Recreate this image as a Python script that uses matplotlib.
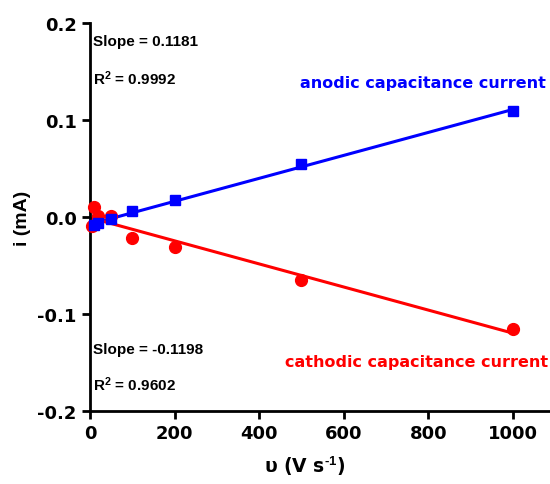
import matplotlib.pyplot as plt
import numpy as np

plt.rcParams['font.family'] = ['Liberation Sans', 'DejaVu Sans']
plt.rcParams['font.weight'] = 'bold'
plt.rcParams['mathtext.fontset'] = 'custom'
plt.rcParams['mathtext.rm'] = 'Liberation Sans:bold'
plt.rcParams['mathtext.bf'] = 'Liberation Sans:bold'
plt.rcParams['mathtext.default'] = 'bf'

scan_rate = [10, 20, 50, 100, 200, 500, 1000]
anodic = [-0.008, -0.006, -0.002, 0.006, 0.0178, 0.0546, 0.1096]
cathodic_x = [5, 10, 20, 50, 100, 200, 500, 1000]
cathodic = [-0.009, 0.011, 0.001, 0.001, -0.021, -0.031, -0.065, -0.1155]

wide = ['DejaVu Sans']

fig = plt.figure(figsize=(5.5, 4.85), dpi=100)
ax = fig.add_axes([0.1636, 0.1505, 0.8364, 0.799])

xf = np.array([0, 1000])
pa = np.polyfit(scan_rate, anodic, 1)
pc = np.polyfit(cathodic_x, cathodic, 1)
ax.plot(xf, np.polyval(pa, xf), color='#0000ff', lw=2.2, zorder=2)
ax.plot(xf, np.polyval(pc, xf), color='#ff0000', lw=2.2, zorder=2)
ax.plot(cathodic_x, cathodic, 'o', color='#ff0000', ms=8.5, zorder=3, clip_on=False)
ax.plot(scan_rate, anodic, 's', color='#0000ff', ms=7, zorder=4, clip_on=False)

ax.set_xlim(0, 1088)
ax.set_ylim(-0.2, 0.2)
ax.set_xticks([0, 200, 400, 600, 800, 1000])
ax.set_yticks([-0.2, -0.1, 0.0, 0.1, 0.2])
ax.set_yticklabels(['-0.2', '-0.1', '0.0', '0.1', '0.2'])

for s in ['top', 'right']:
    ax.spines[s].set_visible(False)
for s in ['left', 'bottom']:
    ax.spines[s].set_linewidth(2)
ax.tick_params(width=2, length=6, labelsize=13, direction='out')
for lab in ax.get_xticklabels() + ax.get_yticklabels():
    lab.set_fontweight('bold')
    lab.set_family(wide)

ax.set_xlabel('υ (V s$^{\\text{-1}}$)', fontsize=13.5, fontweight='bold', family=wide)
ax.xaxis.set_label_coords(0.467, -0.11)
ax.set_ylabel('i (mA)', fontsize=14, fontweight='bold')
ax.yaxis.set_label_coords(-0.128, 0.5)

ax.text(0.007, 0.954, 'Slope = 0.1181', transform=ax.transAxes, fontsize=11, fontweight='bold', va='center')
ax.text(0.007, 0.861, 'R$^2$ = 0.9992', transform=ax.transAxes, fontsize=11, fontweight='bold', va='center')
ax.text(0.007, 0.16, 'Slope = -0.1198', transform=ax.transAxes, fontsize=11, fontweight='bold', va='center')
ax.text(0.007, 0.07, 'R$^2$ = 0.9602', transform=ax.transAxes, fontsize=11, fontweight='bold', va='center')
ax.text(0.99, 0.848, 'anodic capacitance current', transform=ax.transAxes, fontsize=11.5,
        fontweight='bold', family=wide, color='#0000ff', ha='right', va='center')
ax.text(0.995, 0.129, 'cathodic capacitance current', transform=ax.transAxes, fontsize=11.5,
        fontweight='bold', family=wide, color='#ff0000', ha='right', va='center')

fig.savefig('out.png', dpi=100)
